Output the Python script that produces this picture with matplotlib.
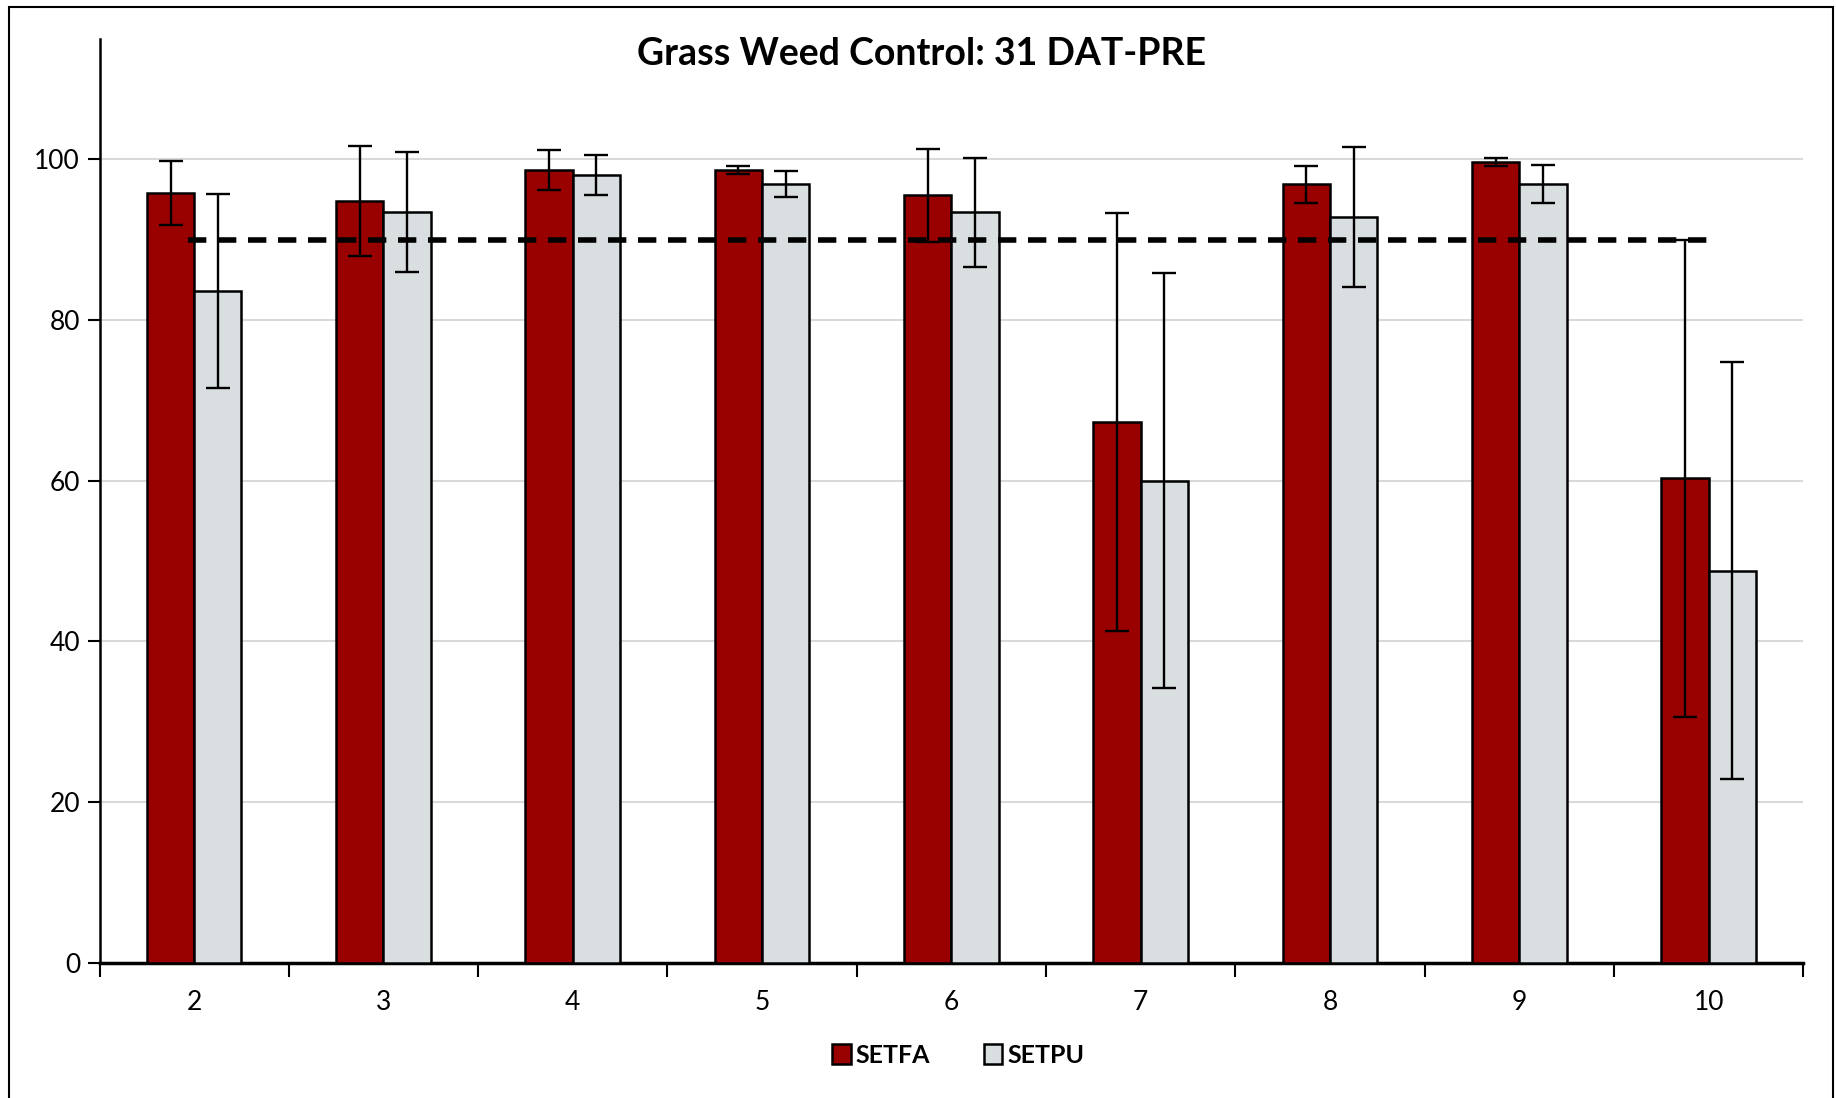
import numpy as np
import matplotlib.pyplot as plt
from matplotlib.patches import Rectangle

# Treatment numbers and mean control (%) with error bars
treatments = [2, 3, 4, 5, 6, 7, 8, 9, 10]
setfa = [95.8, 94.8, 98.7, 98.7, 95.5, 67.3, 96.9, 99.7, 60.3]
setfa_err = [4.0, 6.8, 2.5, 0.5, 5.8, 26.0, 2.3, 0.5, 29.7]
setpu = [83.6, 93.4, 98.0, 96.9, 93.4, 60.0, 92.8, 96.9, 48.8]
setpu_err = [12.1, 7.5, 2.5, 1.6, 6.8, 25.8, 8.7, 2.4, 25.9]
threshold = 90

plt.rcParams['font.family'] = ['Lato', 'DejaVu Sans']

fig = plt.figure(figsize=(18.36, 10.98), dpi=100)
ax = fig.add_axes([0.0542, 0.1233, 0.928, 0.8415])

x = np.arange(len(treatments))
w = 0.25
ax.bar(x - w / 2, setfa, w, color='#990000', edgecolor='black', linewidth=1.8,
       label='SETFA', zorder=3)
ax.bar(x + w / 2, setpu, w, color='#D9DEE1', edgecolor='black', linewidth=1.8,
       label='SETPU', zorder=3)
ax.errorbar(x - w / 2, setfa, yerr=setfa_err, fmt='none', ecolor='black',
            elinewidth=1.7, capsize=8.5, capthick=1.7, zorder=4)
ax.errorbar(x + w / 2, setpu, yerr=setpu_err, fmt='none', ecolor='black',
            elinewidth=1.7, capsize=8.5, capthick=1.7, zorder=4)

# 90% control reference line
ax.plot([x[0] - 0.03, x[-1] + 0.04], [threshold, threshold], color='black',
        linewidth=4.0, dashes=(3.3, 2.1), zorder=5)

ax.set_xlim(-0.5, len(treatments) - 0.5)
ax.set_ylim(0, 115)
ax.set_yticks(range(0, 101, 20))
ax.yaxis.grid(True, color='#D9D9D9', linewidth=1.5, zorder=0)
ax.set_axisbelow(True)

ax.set_xticks(x)
ax.set_xticklabels([str(t) for t in treatments], fontsize=19)
ax.set_xticks(np.arange(-0.5, len(treatments)), minor=True)
ax.tick_params(axis='x', which='major', length=0, pad=20)
ax.tick_params(axis='x', which='minor', length=10, width=1.5, direction='out')
ax.tick_params(axis='y', length=9, width=1.5, labelsize=19, pad=5)

for s in ['top', 'right']:
    ax.spines[s].set_visible(False)
ax.spines['left'].set_linewidth(1.8)
ax.spines['bottom'].set_linewidth(2.5)

fig.text(0.502, 0.951, 'Grass Weed Control: 31 DAT-PRE',
         ha='center', va='center', fontsize=27, fontweight='bold')

ax.legend(loc='center', bbox_to_anchor=(0.504, -0.10), ncol=2, frameon=False,
          prop={'size': 18, 'weight': 'bold'}, handlelength=0.75, handleheight=0.85,
          handletextpad=0.2, columnspacing=2.13)

# outer chart border
fig.patches.append(Rectangle((9 / 1836, -0.01), 1824 / 1836, 1 - 7 / 1098 + 0.01,
                             transform=fig.transFigure, fill=False,
                             edgecolor='black', linewidth=1.5))

fig.savefig('out.png', dpi=100)
